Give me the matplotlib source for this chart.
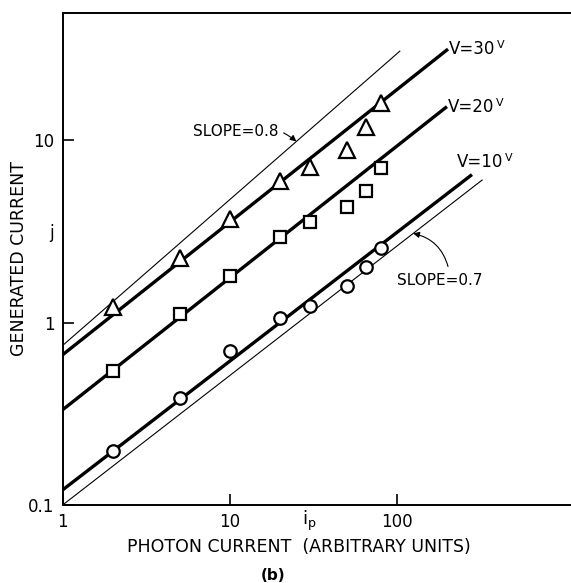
import numpy as np
import matplotlib
matplotlib.use("Agg")
from matplotlib import pyplot as plt

# measured photon current values (same for all three voltages)
ip = [2, 5, 10, 20, 30, 50, 65, 80]
j_30v = [1.21, 2.25, 3.68, 5.96, 7.1, 8.8, 11.8, 16.0]
j_20v = [0.545, 1.11, 1.81, 2.93, 3.54, 4.33, 5.3, 7.0]
j_10v = [0.198, 0.387, 0.70, 1.06, 1.24, 1.58, 2.03, 2.55]

# fitted lines j = a * ip**b, drawn from ip=1 to x_end
fit_labels = ["V=30", "V=20", "V=10"]
fit_a = [0.667, 0.333, 0.121]
fit_b = [0.727, 0.723, 0.706]
fit_end = [202, 199, 281]

# reference slope lines
ref_labels = ["SLOPE=0.8", "SLOPE=0.7"]
ref_a = [0.75, 0.1]
ref_b = [0.8, 0.71]
ref_end = [104, 323]

plt.rcParams['font.family'] = ['DejaVu Sans']
FS = 12

fig = plt.figure(figsize=(5.71, 5.83), dpi=100)
ax = fig.add_axes([0.110, 0.134, 0.89, 0.844])
ax.set_xscale("log")
ax.set_yscale("log")
ax.set_xlim(1, 1100)
ax.set_ylim(0.1, 50)

for a, b, xe in zip(fit_a, fit_b, fit_end):
    xx = np.array([1, xe])
    ax.plot(xx, a * xx ** b, color="black", lw=2.4, solid_capstyle="butt", zorder=2)
for a, b, xe in zip(ref_a, ref_b, ref_end):
    xx = np.array([1, xe])
    ax.plot(xx, a * xx ** b, color="black", lw=0.8, zorder=2)

mk = dict(color="black", mfc="white", mew=1.6, ls="none", zorder=3)
ax.plot(ip, j_30v, marker="^", ms=11, **mk)
ax.plot(ip, j_20v, marker="s", ms=8, **mk)
ax.plot(ip, j_10v, marker="o", ms=9, **mk)


def volt_label(x, y, lab):
    t = ax.text(x, y, lab, fontsize=FS, ha="left", va="center")
    ax.annotate("V", xy=(1, 1), xycoords=t, xytext=(1, 0), textcoords="offset points",
                fontsize=8, ha="left", va="top")


# line labels
for lab, a, b, xe in zip(fit_labels[:2], fit_a[:2], fit_b[:2], fit_end[:2]):
    volt_label(xe * 1.01, a * xe ** b * 1.0, lab)
volt_label(229, 7.6, fit_labels[2])

# slope annotations
x8 = 25
ax.annotate(ref_labels[0], xy=(x8, ref_a[0] * x8 ** ref_b[0]), xytext=(6.0, 11.1),
            fontsize=11, ha="left", va="center",
            arrowprops=dict(arrowstyle="-|>", color="black", lw=0.8, mutation_scale=9,
                            connectionstyle="arc3,rad=-0.3", shrinkA=2, shrinkB=0))
x7 = 125
ax.text(100, 1.7, ref_labels[1], fontsize=11, ha="left", va="center")
ax.annotate("", xy=(x7, ref_a[1] * x7 ** ref_b[1]), xytext=(202, 2.03),
            arrowprops=dict(arrowstyle="-|>", color="black", lw=0.8, mutation_scale=9,
                            connectionstyle="arc3,rad=0.3", shrinkA=0, shrinkB=0))

ax.set_xticks([1, 10, 100])
ax.set_xticklabels(["1", "10", "100"])
ax.set_yticks([0.1, 1, 10])
ax.set_yticklabels(["0.1", "1", "10"])
ax.minorticks_off()
ax.tick_params(direction="in", length=8, width=1.2, labelsize=FS, pad=6)
ax.text(30, 0.0815, r"$\mathregular{i_p}$", fontsize=FS + 1, ha="center", va="center")
ax.text(0.86, 3.1, "j", fontsize=FS, ha="center", va="center")

ax.spines["right"].set_visible(False)
for s in ["left", "top", "bottom"]:
    ax.spines[s].set_linewidth(1.4)

fig.text(0.524, 0.062, "PHOTON CURRENT  (ARBITRARY UNITS)", fontsize=12.5,
         ha="center", va="center")
fig.text(0.478, 0.0137, "(b)", fontsize=11, fontweight="bold", ha="center", va="center")
fig.text(0.033, 0.557, "GENERATED CURRENT", fontsize=12.5, rotation=90,
         ha="center", va="center")

fig.savefig("out.png", dpi=100)
